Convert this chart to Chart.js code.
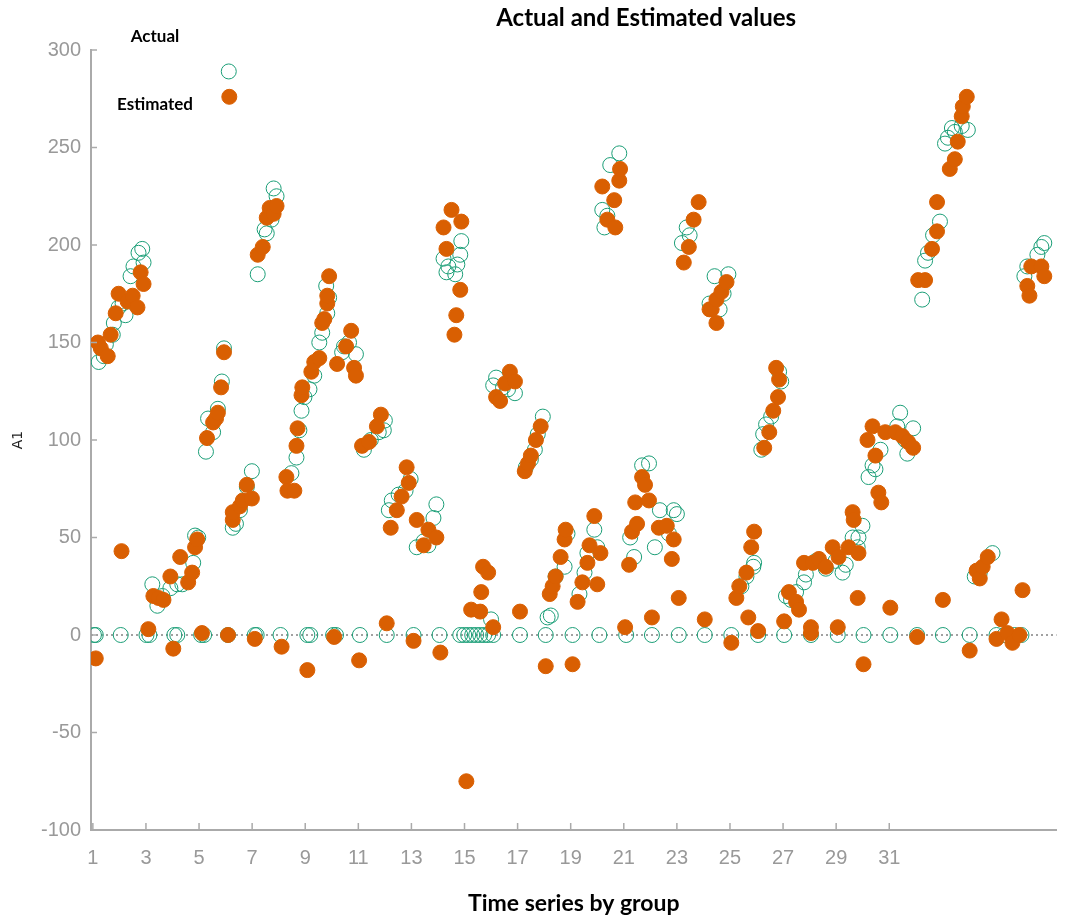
<!DOCTYPE html>
<html>
<head>
<meta charset="utf-8">
<script src="https://cdn.jsdelivr.net/npm/chart.js@4.4.0/dist/chart.umd.min.js"></script>
<style>
body { margin: 0; background: #fff; }
#wrap { width: 1065px; height: 922px; }
</style>
</head>
<body>
<div id="wrap"><canvas id="chart"></canvas></div>
<script>
const chartTitle = 'Actual and Estimated values';
const seriesNames = ['Actual', 'Estimated'];
const xTickValues = [1, 3, 5, 7, 9, 11, 13, 15, 17, 19, 21, 23, 25, 27, 29, 31];
const yTickValues = [-100, -50, 0, 50, 100, 150, 200, 250, 300];

// Actual (hollow green)
const actualX = [
  1.04, 1.11, 2.05, 3.02, 3.13, 4.07, 4.18, 5.08, 5.19, 6.09, 7.10, 7.17, 8.07, 9.08, 9.19, 10.05, 10.16, 11.06,
  12.07, 13.08, 14.06, 14.84, 14.99, 15.14, 15.29, 15.44, 15.59, 15.74, 15.89, 16.08, 17.09, 18.06, 19.07, 20.08,
  21.09, 22.06, 23.07, 24.05, 25.05, 26.06, 27.04, 28.05, 29.06, 30.03, 31.04, 32.05, 33.02, 34.03, 35.04, 35.34,
  35.72, 35.98,
  1.22, 1.41, 1.49, 1.75, 1.79, 1.97, 2.12, 2.23, 2.42, 2.53, 2.72, 2.86, 2.91,
  3.24, 3.43, 3.62, 3.92, 4.18, 4.37, 4.78, 4.85, 4.97,
  5.26, 5.34, 5.53, 5.71, 5.86, 5.94,
  6.12, 6.27, 6.39, 6.54, 6.80, 6.99,
  7.21, 7.47, 7.55, 7.73, 7.81, 7.92,
  8.48, 8.67, 8.78, 8.86, 8.97, 9.16, 9.34, 9.53, 9.64, 9.83, 9.90, 9.79,
  10.39, 10.46, 10.65, 10.91,
  11.21, 11.47, 11.77, 11.96, 12.00,
  12.15, 12.26, 12.52, 12.78, 12.97,
  13.20, 13.46, 13.64, 13.83, 13.94,
  14.21, 14.32, 14.39, 14.65, 14.73, 14.84, 14.88,
  16.00,
  16.08, 16.19, 16.45, 16.64, 16.90,
  17.31, 17.50, 17.65, 17.76, 17.95,
  18.13, 18.25, 18.43, 18.77, 18.88,
  19.33, 19.52, 19.63, 19.89, 20.00,
  20.19, 20.27, 20.38, 20.49, 20.83,
  21.24, 21.39, 21.69, 21.95, 22.17, 22.36, 22.70, 22.88, 23.00,
  23.19, 23.37, 23.48,
  24.23, 24.42, 24.61, 24.76, 24.94,
  25.43, 25.62, 25.88, 25.91,
  26.18, 26.25, 26.36, 26.55, 26.85, 26.93,
  27.11, 27.30, 27.49, 27.79, 27.86,
  28.24, 28.61, 28.98, 29.24, 29.36,
  29.62, 29.81, 29.84, 29.99,
  30.22, 30.37, 30.48, 30.67,
  31.30, 31.41, 31.60, 31.68, 31.90,
  32.24, 32.35, 32.46, 32.65, 32.91,
  33.10, 33.21, 33.36, 33.47, 33.73, 33.96,
  34.22, 34.41, 34.89,
  36.09, 36.20, 36.58, 36.73, 36.84
];
const actualY = [
  0, 0, 0, 0, 0, 0, 0, 0, 0, 0, 0, 0, 0, 0, 0, 0, 0, 0,
  0, 0, 0, 0, 0, 0, 0, 0, 0, 0, 0, 0, 0, 0, 0, 0,
  0, 0, 0, 0, 0, 0, 0, 0, 0, 0, 0, 0, 0, 0, 0, 0,
  0, 0,
  140, 143, 149, 154, 160, 168, 170, 164, 184, 189, 196, 198, 191,
  26, 15, 20, 24, 26, 26, 37, 51, 50,
  94, 111, 104, 116, 130, 147,
  289, 55, 57, 64, 76, 84,
  185, 208, 206, 213, 229, 225,
  83, 91, 105, 115, 122, 126, 133, 150, 155, 165, 173, 179,
  145, 148, 150, 144,
  95, 100, 104, 105, 110,
  64, 69, 72, 74, 80,
  45, 48, 46, 60, 67,
  193, 186, 189, 185, 190, 195, 202,
  8,
  128, 132, 127, 126, 124,
  86, 90, 95, 103, 112,
  9, 10, 30, 35, 52,
  21, 32, 42, 54, 45,
  218, 209, 215, 241, 247,
  50, 40, 87, 88, 45, 64, 52, 64, 62,
  201, 209, 205,
  170, 184, 167, 175, 185,
  25, 30, 35, 37,
  95, 103, 108, 112, 135, 130,
  20, 18, 22, 27, 31,
  38, 34, 38, 32, 36,
  50, 45, 50, 56,
  81, 87, 85, 95,
  107, 114, 100, 93, 106,
  172, 192, 196, 205, 212,
  252, 255, 260, 258, 261, 259,
  30, 32, 42,
  184, 189, 195, 199, 201
];

// Estimated (filled orange)
const estimatedX = [
  1.11, 1.19, 1.30, 1.56, 1.67, 1.86, 1.97, 2.08, 2.31, 2.50, 2.68, 2.80, 2.91,
  3.09, 3.28, 3.47, 3.66, 3.92, 4.03, 4.29, 4.59, 4.74, 4.85, 4.93,
  5.11, 5.30, 5.53, 5.64, 5.71, 5.83, 5.94, 6.09,
  6.14, 6.27, 6.27, 6.54, 6.65, 6.80, 6.99, 7.10,
  7.21, 7.40, 7.55, 7.66, 7.81, 7.92,
  8.11, 8.29, 8.33, 8.59, 8.67, 8.71, 8.86, 8.89, 9.08, 9.23, 9.34, 9.53, 9.64, 9.72, 9.83, 9.83, 9.90,
  10.09, 10.20, 10.54, 10.73, 10.84, 10.91, 11.03,
  11.14, 11.40, 11.70, 11.85, 12.07,
  12.22, 12.45, 12.63, 12.82, 12.90, 13.08, 13.20, 13.46, 13.64, 13.94, 14.09,
  14.21, 14.32, 14.51, 14.62, 14.69, 14.84, 14.88,
  15.07, 15.25, 15.59, 15.63, 15.70, 15.89, 16.08,
  16.19, 16.34, 16.53, 16.71, 16.90,
  17.09, 17.27, 17.39, 17.50, 17.69, 17.87,
  18.06, 18.21, 18.32, 18.43, 18.62, 18.77, 18.81,
  19.07, 19.26, 19.44, 19.63, 19.71, 19.89, 20.00, 20.12,
  20.19, 20.38, 20.64, 20.68, 20.83, 20.86,
  21.05, 21.20, 21.31, 21.43, 21.50, 21.69, 21.80, 21.95, 22.06, 22.32, 22.62, 22.81, 22.88, 23.07,
  23.26, 23.45, 23.63, 23.82,
  24.05, 24.23, 24.31, 24.49, 24.49, 24.68, 24.87,
  25.05, 25.24, 25.35, 25.62, 25.69, 25.80, 25.91, 26.06,
  26.29, 26.48, 26.63, 26.81, 26.85, 26.74,
  27.04, 27.22, 27.49, 27.60, 27.79, 28.05, 28.05, 28.12, 28.35, 28.61, 28.87, 29.06, 29.09, 29.47, 29.62, 29.66, 29.81, 29.84, 30.03,
  30.18, 30.37, 30.48, 30.59, 30.70, 30.85, 31.04, 31.23, 31.49, 31.71, 31.90, 32.05,
  32.09, 32.35, 32.61, 32.80, 32.80, 33.02,
  33.28, 33.47, 33.58, 33.73, 33.77, 33.92, 34.03,
  34.29, 34.41, 34.52, 34.71,
  35.04, 35.23, 35.45, 35.64, 35.90, 36.02,
  36.20, 36.28, 36.35, 36.73, 36.84
];
const estimatedY = [
  -12, 150, 147, 143, 154, 165, 175, 43, 171, 174, 168, 186, 180,
  3, 20, 19, 18, 30, -7, 40, 27, 32, 45, 49,
  1, 101, 109, 111, 114, 127, 145, 0,
  276, 59, 63, 66, 69, 77, 70, -2,
  195, 199, 214, 219, 216, 220,
  -6, 81, 74, 74, 97, 106, 123, 127, -18, 135, 140, 142, 160, 162, 170, 174, 184,
  -1, 139, 148, 156, 137, 133, -13,
  97, 99, 107, 113, 6,
  55, 64, 71, 86, 78, -3, 59, 46, 54, 50, -9,
  209, 198, 218, 154, 164, 177, 212,
  -75, 13, 12, 22, 35, 32, 4,
  122, 120, 129, 135, 130,
  12, 84, 88, 92, 100, 107,
  -16, 21, 25, 30, 40, 49, 54,
  -15, 17, 27, 37, 46, 61, 26, 42,
  230, 213, 223, 209, 233, 239,
  4, 36, 53, 68, 57, 81, 77, 69, 9, 55, 56, 39, 49, 19,
  191, 199, 213, 222,
  8, 167, 167, 160, 172, 176, 181,
  -4, 19, 25, 32, 9, 45, 53, 2,
  96, 104, 115, 122, 131, 137,
  7, 22, 17, 13, 37, 4, 1, 37, 39, 35, 45, 4, 40, 45, 63, 59, 19, 42, -15,
  100, 107, 92, 73, 68, 104, 14, 104, 102, 99, 96, -1,
  182, 182, 198, 207, 222, 18,
  239, 244, 253, 266, 271, 276, -8,
  33, 29, 35, 40,
  -2, 8, 1, -4, 0, 23,
  179, 174, 189, 189, 184
];

const toPoints = (xs, ys) => xs.map((x, i) => ({ x: x, y: ys[i] }));

const decor = {
  id: 'decor',
  beforeDatasetsDraw(chart) {
    const { ctx, chartArea: a, scales: { y } } = chart;
    const y0 = y.getPixelForValue(0);
    ctx.save();
    ctx.strokeStyle = '#444';
    ctx.lineWidth = 1.2;
    ctx.setLineDash([2, 3]);
    ctx.beginPath();
    ctx.moveTo(a.left, y0);
    ctx.lineTo(a.right, y0);
    ctx.stroke();
    ctx.restore();
  },
  afterDraw(chart) {
    const { ctx, chartArea: a, scales: { x, y } } = chart;
    ctx.save();
    // small inward tick marks
    ctx.strokeStyle = '#aaa';
    ctx.lineWidth = 1.5;
    ctx.beginPath();
    x.ticks.forEach(t => {
      const px = x.getPixelForValue(t.value);
      ctx.moveTo(px, a.bottom);
      ctx.lineTo(px, a.bottom - 7);
    });
    y.ticks.forEach(t => {
      const py = y.getPixelForValue(t.value);
      ctx.moveTo(a.left, py);
      ctx.lineTo(a.left + 6, py);
    });
    ctx.stroke();
    // title and legend labels
    ctx.fillStyle = '#000';
    ctx.textAlign = 'center';
    ctx.textBaseline = 'middle';
    ctx.font = 'bold 24px Lato';
    ctx.fillText(chartTitle, a.left + (a.right - a.left) * 0.575, 18);
    ctx.font = 'bold 17px Lato';
    ctx.fillText(seriesNames[0], 155, 37);
    ctx.fillText(seriesNames[1], 155, 105);
    ctx.restore();
  }
};

new Chart(document.getElementById('chart'), {
  type: 'scatter',
  data: {
    datasets: [
      {
        label: seriesNames[0],
        data: toPoints(actualX, actualY),
        backgroundColor: 'rgba(0,0,0,0)',
        borderColor: '#1b9e77',
        borderWidth: 1,
        pointRadius: 7.5,
        order: 2
      },
      {
        label: seriesNames[1],
        data: toPoints(estimatedX, estimatedY),
        backgroundColor: '#d95f02',
        borderColor: '#d95f02',
        borderWidth: 1,
        pointRadius: 7.5,
        order: 1
      }
    ]
  },
  options: {
    responsive: true,
    maintainAspectRatio: false,
    animation: false,
    layout: { padding: { top: 50, right: 3, left: 0, bottom: 0 } },
    plugins: {
      legend: { display: false },
      tooltip: { enabled: false }
    },
    scales: {
      x: {
        type: 'linear',
        min: 0.93,
        max: 37.3,
        afterBuildTicks: s => { s.ticks = xTickValues.map(v => ({ value: v })); },
        afterFit: s => { s.height = 92; },
        grid: { display: false, drawTicks: false },
        border: { display: true, color: '#aaa', width: 2 },
        ticks: {
          color: '#999',
          padding: 16,
          maxRotation: 0,
          autoSkip: false,
          font: { family: 'Liberation Sans', size: 20 }
        },
        title: {
          display: true,
          text: 'Time series by group',
          color: '#000',
          font: { family: 'Lato', size: 23, weight: 'bold' },
          padding: { top: 0, bottom: 5 }
        }
      },
      y: {
        min: -100,
        max: 300,
        afterBuildTicks: s => { s.ticks = yTickValues.map(v => ({ value: v })); },
        afterFit: s => { s.width = 91; },
        grid: { display: false, drawTicks: false },
        border: { display: true, color: '#aaa', width: 2 },
        ticks: {
          color: '#999',
          padding: 10,
          font: { family: 'Liberation Sans', size: 20 }
        },
        title: {
          display: true,
          text: 'A1',
          color: '#222',
          font: { family: 'DejaVu Sans', size: 14 },
          padding: { top: 10, bottom: 0 }
        }
      }
    }
  },
  plugins: [decor]
});
</script>
</body>
</html>
